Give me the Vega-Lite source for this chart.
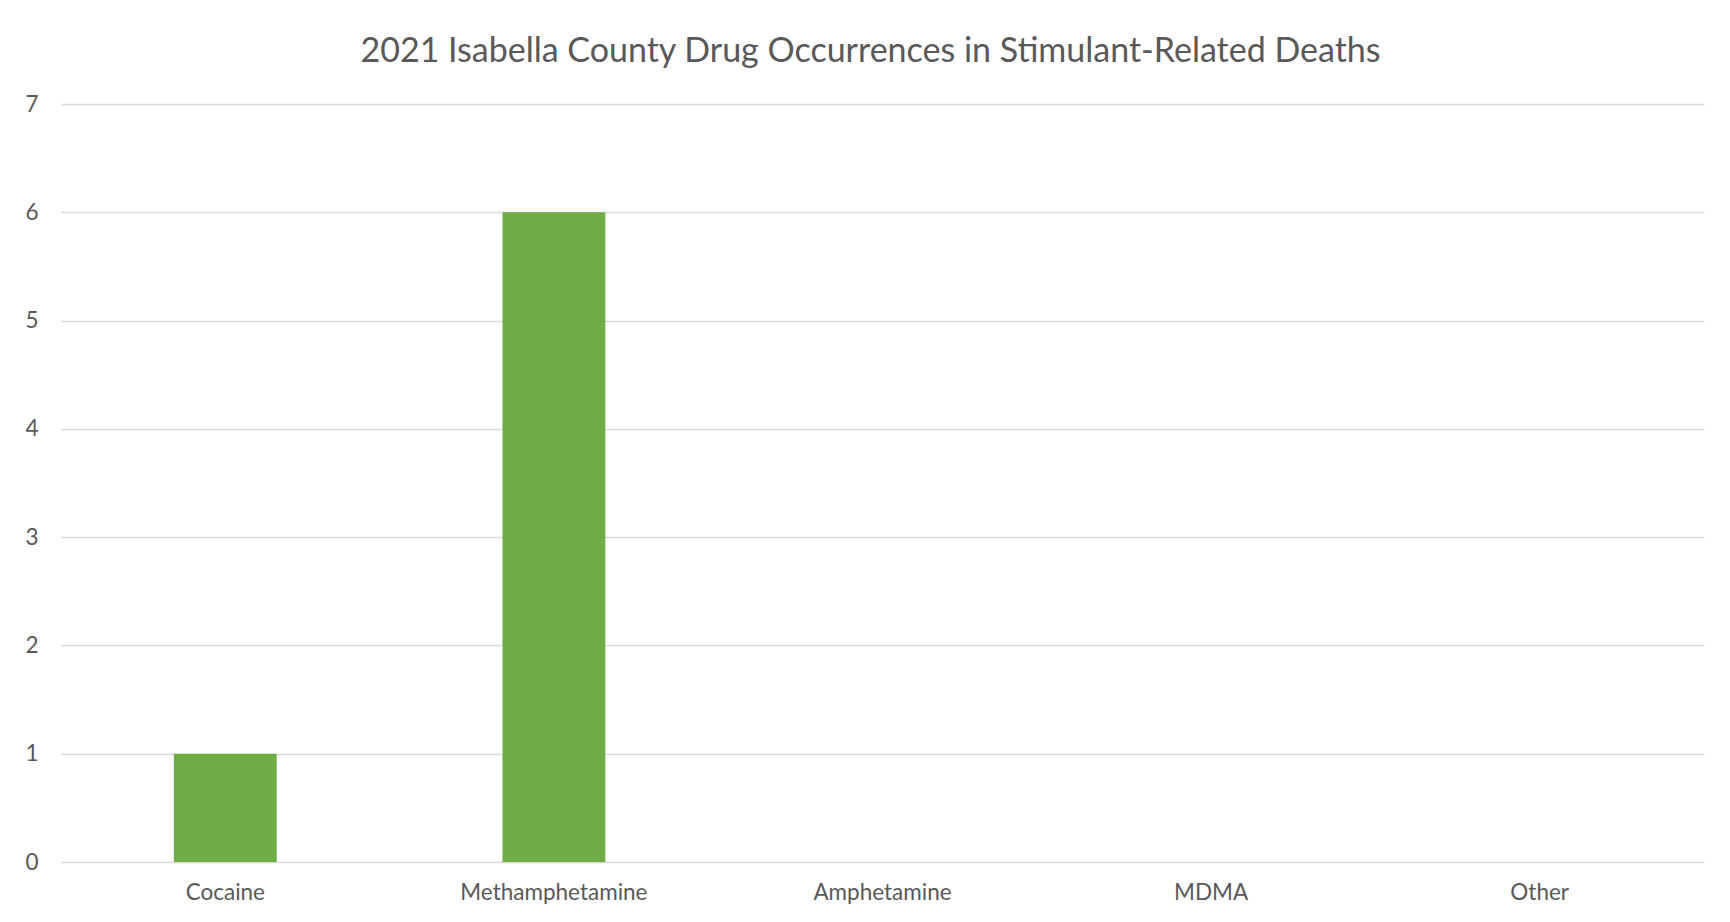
{
  "$schema": "https://vega.github.io/schema/vega-lite/v6.json",
  "autosize": {"type": "none"},
  "padding": {"left": 61, "top": 104, "right": 26, "bottom": 60},
  "width": 1643,
  "height": 758,
  "background": "white",
  "title": {
    "text": "2021 Isabella County Drug Occurrences in Stimulant-Related Deaths",
    "font": "Lato",
    "fontSize": 34,
    "fontWeight": "normal",
    "color": "#595959",
    "anchor": "middle",
    "frame": "group",
    "dx": -12,
    "baseline": "middle",
    "offset": 7
  },
  "data": {
    "values": [
      {"drug": "Cocaine", "count": 1},
      {"drug": "Methamphetamine", "count": 6},
      {"drug": "Amphetamine", "count": 0},
      {"drug": "MDMA", "count": 0},
      {"drug": "Other", "count": 0}
    ]
  },
  "mark": {"type": "bar", "color": "#70AD47"},
  "encoding": {
    "x": {
      "field": "drug",
      "type": "nominal",
      "sort": null,
      "scale": {"paddingInner": 0.687, "paddingOuter": 0.3435},
      "axis": {
        "title": null,
        "labelAngle": 0,
        "labelLimit": 0,
        "domain": false,
        "ticks": false,
        "labelFont": "Lato",
        "labelFontSize": 22.5,
        "labelColor": "#595959",
        "labelPadding": 19
      }
    },
    "y": {
      "field": "count",
      "type": "quantitative",
      "scale": {"domain": [0, 7], "nice": false},
      "axis": {
        "title": null,
        "values": [0, 1, 2, 3, 4, 5, 6, 7],
        "labelOverlap": false,
        "domain": false,
        "ticks": false,
        "grid": true,
        "gridColor": "#D9D9D9",
        "gridWidth": 1.6,
        "labelFont": "Lato",
        "labelFontSize": 22.5,
        "labelColor": "#595959",
        "labelPadding": 23
      }
    }
  },
  "config": {
    "view": {"stroke": null}
  }
}
